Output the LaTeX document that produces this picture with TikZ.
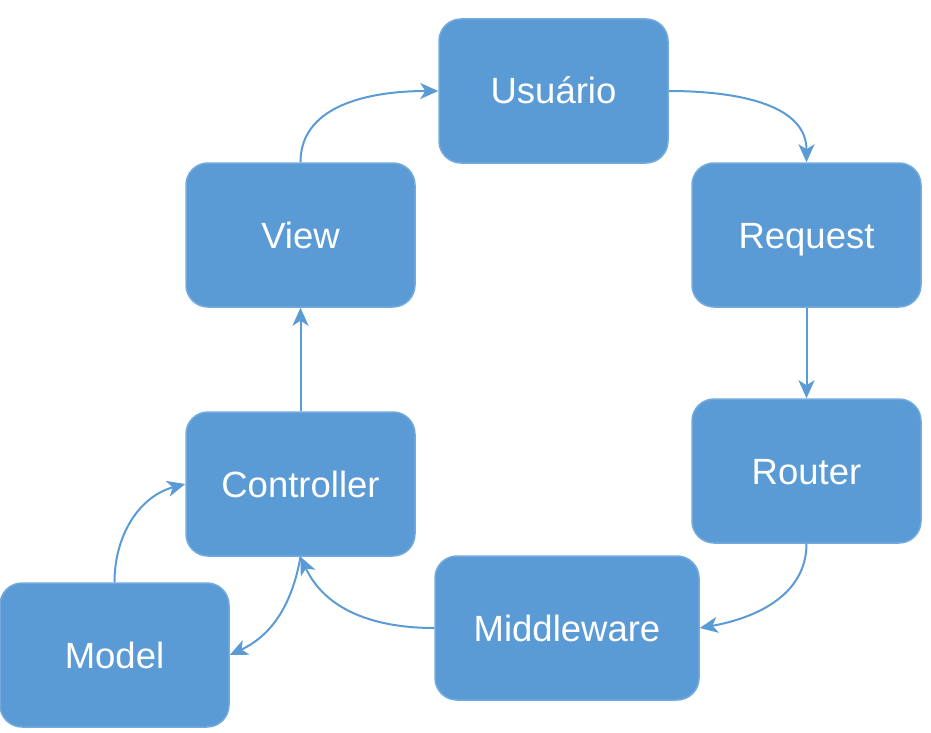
\documentclass[tikz,border=0pt]{standalone}
\usepackage{fontspec}
\setmainfont{Liberation Sans}
\usetikzlibrary{arrows.meta}
\definecolor{boxblue}{HTML}{5B9BD5}
\definecolor{rimblue}{HTML}{72AADD}
\definecolor{lineblue}{HTML}{5B9BD5}
\begin{document}
\begin{tikzpicture}[x=1pt,y=-1pt,
  box/.style={draw=rimblue, line width=1.5pt, fill=boxblue, rounded corners=22pt,
    minimum width=229pt, minimum height=144pt, inner sep=0pt, text=white,
    text height=26pt, text depth=0pt,
    font=\fontsize{36.5}{44}\selectfont},
  arr/.style={draw=lineblue, line width=2pt,
    -{Stealth[length=18pt,width=16pt,inset=5pt]}}]
\useasboundingbox (0,0) rectangle (931,733);
\node[box] (usuario) at (553.5,91) {Usuário};
\node[box] (view) at (300.5,235) {View};
\node[box] (request) at (806.5,235) {Request};
\node[box] (router) at (806.5,471) {Router};
\node[box] (controller) at (300.5,484) {Controller};
\node[box, minimum width=264pt] (middleware) at (567,628) {Middleware};
\node[box] (model) at (114.5,655) {Model};

\draw[arr] (view.north) to[out=90,in=180] (usuario.west);
\draw[arr] (usuario.east) to[out=0,in=90] (request.north);
\draw[arr] (request.south) -- (router.north);
\draw[arr] (router.south) to[out=-90,in=10] (middleware.east);
\draw[arr] (middleware.west) to[out=180,in=-65] (controller.south);
\draw[arr] (controller.south) to[out=-100,in=25] (model.east);
\draw[arr] (model.north) to[out=90,in=195] (controller.west);
\draw[arr] (controller.north) -- (view.south);
\end{tikzpicture}
\end{document}
